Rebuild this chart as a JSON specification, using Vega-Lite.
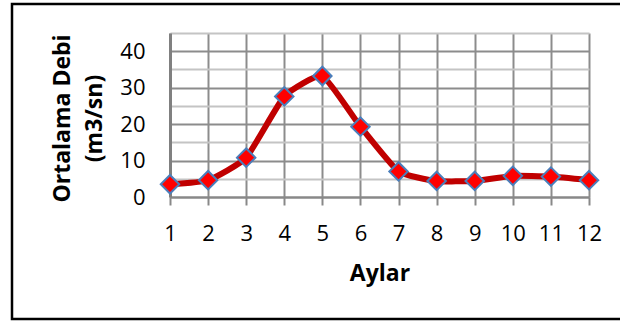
{
  "$schema": "https://vega.github.io/schema/vega-lite/v6.json",
  "width": 419,
  "height": 164,
  "autosize": "none",
  "padding": {"left": 170, "top": 33, "right": 31, "bottom": 126},
  "background": "white",
  "config": {
    "view": {"stroke": null},
    "font": "Open Sans",
    "axis": {"labelColor": "black", "titleColor": "black"}
  },
  "data": {
    "values": [
      {"ay": 1, "debi": 3.5},
      {"ay": 2, "debi": 4.6},
      {"ay": 3, "debi": 10.8},
      {"ay": 4, "debi": 27.6},
      {"ay": 5, "debi": 33.2},
      {"ay": 6, "debi": 19.3},
      {"ay": 7, "debi": 7.0},
      {"ay": 8, "debi": 4.4},
      {"ay": 9, "debi": 4.4},
      {"ay": 10, "debi": 5.8},
      {"ay": 11, "debi": 5.6},
      {"ay": 12, "debi": 4.6}
    ]
  },
  "encoding": {
    "x": {
      "field": "ay",
      "type": "quantitative",
      "scale": {"domain": [1, 12], "nice": false, "zero": false},
      "axis": {
        "values": [1, 2, 3, 4, 5, 6, 7, 8, 9, 10, 11, 12],
        "title": "Aylar",
        "grid": true,
        "gridColor": "#8c8c8c",
        "gridWidth": 2,
        "domainColor": "#888888",
        "domainWidth": 2,
        "tickColor": "#888888",
        "tickWidth": 2,
        "tickSize": 8,
        "labelFontSize": 22,
        "labelPadding": 18,
        "labelFlush": false,
        "labelOverlap": false,
        "titleFontSize": 23,
        "titleFontWeight": "bold",
        "titleBaseline": "alphabetic",
        "titleY": 83
      }
    },
    "y": {
      "field": "debi",
      "type": "quantitative",
      "scale": {"domain": [0, 45], "nice": false},
      "axis": {
        "values": [0, 5, 10, 15, 20, 25, 30, 35, 40, 45],
        "labelExpr": "datum.value % 10 === 0 ? datum.label : ''",
        "grid": true,
        "gridColor": {"condition": {"test": "datum.value % 10 === 0", "value": "#8c8c8c"}, "value": "#c4c4c4"},
        "gridWidth": 2,
        "domainColor": "#808080",
        "domainWidth": 3,
        "ticks": false,
        "labelFontSize": 22,
        "labelPadding": 25,
        "title": ["Ortalama Debi", "(m3/sn)"],
        "titleFontSize": 23,
        "titleFontWeight": "bold",
        "titleAngle": -90,
        "titleAlign": "center",
        "titleBaseline": "alphabetic",
        "titleLineHeight": 32.5,
        "titleX": -101,
        "titleY": 85
      }
    }
  },
  "layer": [
    {
      "data": {"values": [{}]},
      "mark": {"type": "rect", "fill": null, "stroke": "black", "strokeWidth": 2.5, "clip": false},
      "encoding": {
        "x": {"value": -158},
        "x2": {"value": {"expr": "width + 40"}},
        "y": {"value": -29},
        "y2": {"value": {"expr": "height + 122"}}
      }
    },
    {
      "mark": {"type": "line", "interpolate": "cardinal", "tension": 0.55, "color": "#c00000", "strokeWidth": 6, "strokeCap": "round", "strokeJoin": "round"}
    },
    {
      "mark": {"type": "point", "shape": "diamond", "filled": true, "fill": "#ff0000", "stroke": "#4a7ebb", "strokeWidth": 2, "size": 340, "opacity": 1}
    }
  ]
}
